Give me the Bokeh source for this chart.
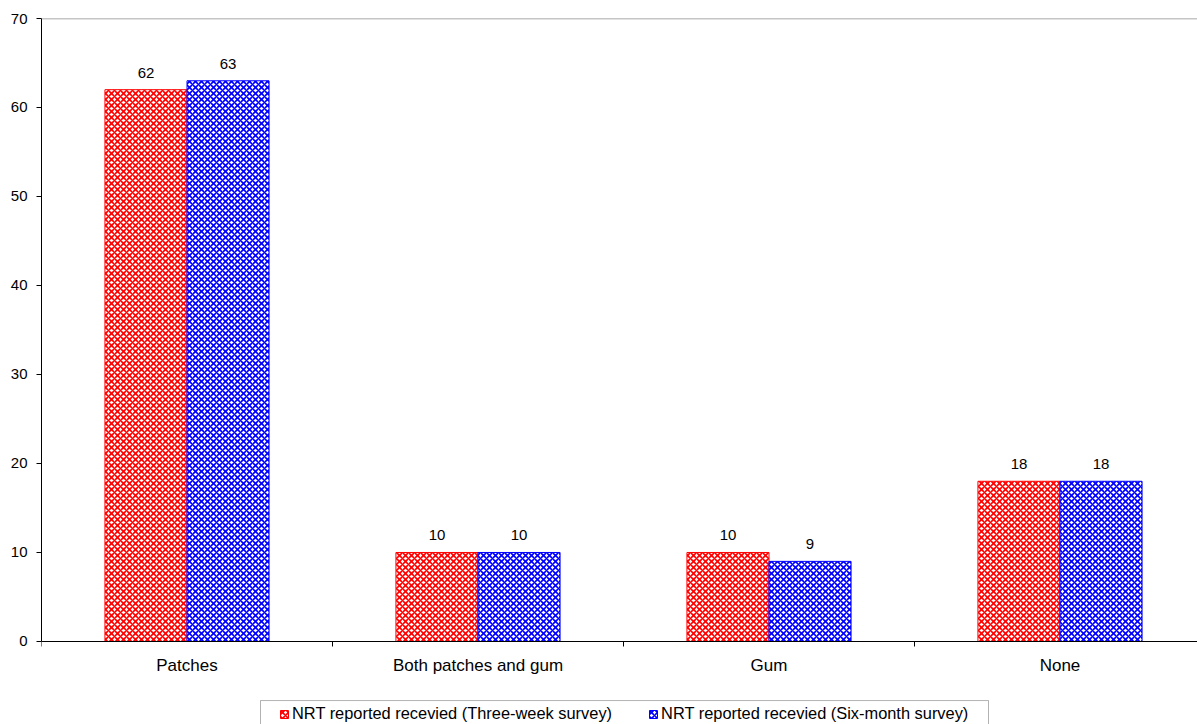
from bokeh.plotting import figure
from bokeh.models import (Range1d, FixedTicker, Span, Legend, LegendItem,
                          ColumnDataSource, BoxAnnotation)
from bokeh.core.properties import value
from bokeh.embed import file_html
from bokeh.resources import INLINE

categories = ["Patches", "Both patches and gum", "Gum", "None"]
three_week = [62, 10, 10, 18]
six_month = [63, 10, 9, 18]
series_names = ["NRT reported recevied (Three-week survey)",
                "NRT reported recevied (Six-month survey)"]
y_ticks = [0, 10, 20, 30, 40, 50, 60, 70]

FONT = "Liberation Sans"
BAR_W = 0.282

p = figure(width=1197, height=724, output_backend="svg", toolbar_location=None,
           x_range=Range1d(0, 3.9725), y_range=Range1d(-9.33, 70),
           min_border_left=41, min_border_right=0, min_border_top=18,
           min_border_bottom=0, background_fill_color="white",
           border_fill_color="white")
p.outline_line_color = None
p.xgrid.visible = False
p.ygrid.visible = False

centers = [i + 0.5 for i in range(len(categories))]
x_red = [c - BAR_W / 2 for c in centers]
x_blue = [c + BAR_W / 2 for c in centers]

src_red = ColumnDataSource(dict(x=x_red, top=three_week, lab=[str(v) for v in three_week]))
src_blue = ColumnDataSource(dict(x=x_blue, top=six_month, lab=[str(v) for v in six_month]))

common = dict(width=BAR_W, bottom=0, fill_color="white", line_width=1,
              hatch_pattern="diagonal_cross", hatch_scale=6, hatch_weight=1.6)
r_red = p.vbar(x="x", top="top", source=src_red, line_color="#FF0000",
               hatch_color="#FF0000", **common)
r_blue = p.vbar(x="x", top="top", source=src_blue, line_color="#0000FF",
                hatch_color="#0000FF", **common)

for src in (src_red, src_blue):
    p.text(x="x", y="top", text="lab", source=src, text_align="center",
           text_baseline="middle", y_offset=-17, text_font=value(FONT),
           text_font_size="15px", text_color="#000000")

p.add_layout(Span(location=70, dimension="width", line_color="#8c8c8c", line_width=1.5))

# Y axis
p.yaxis.bounds = (0, 70)
p.yaxis.ticker = FixedTicker(ticks=y_ticks)
p.yaxis.major_tick_out = 5
p.yaxis.major_tick_in = 0
p.yaxis.minor_tick_out = 0
p.yaxis.minor_tick_in = 0
p.yaxis.axis_line_color = "black"
p.yaxis.major_tick_line_color = "black"
p.yaxis.major_label_standoff = 9
p.yaxis.major_label_text_font = FONT
p.yaxis.major_label_text_font_size = "15px"
p.yaxis.major_label_text_color = "black"

# X axis (fixed at y = 0, inside the frame)
p.xaxis.fixed_location = 0
p.xaxis.ticker = FixedTicker(ticks=centers, minor_ticks=list(range(len(categories) + 1)))
p.xaxis.major_label_overrides = {c: name for c, name in zip(centers, categories)}
p.xaxis.major_tick_out = 0
p.xaxis.major_tick_in = 0
p.xaxis.minor_tick_out = 5
p.xaxis.minor_tick_in = 0
p.xaxis.minor_tick_line_color = "black"
p.xaxis.axis_line_color = "black"
p.xaxis.major_label_standoff = 10
p.xaxis.major_label_text_font = FONT
p.xaxis.major_label_text_font_size = "17px"
p.xaxis.major_label_text_color = "black"

# legend box (frame of the legend, open at the window's bottom edge)
p.add_layout(BoxAnnotation(left=0.7526, right=3.2543, top=-6.64, bottom=-12,
                           fill_color="white", fill_alpha=1,
                           line_color="black", line_width=1))

legend = Legend(items=[LegendItem(label=series_names[0], renderers=[r_red]),
                       LegendItem(label=series_names[1], renderers=[r_blue])],
                orientation="horizontal", location=(238, 1))
legend.border_line_color = None
legend.background_fill_alpha = 0
legend.label_text_font = FONT
legend.label_text_font_size = "16.4px"
legend.label_text_color = "black"
legend.glyph_width = 10
legend.glyph_height = 10
legend.label_height = 16
legend.label_standoff = 3
legend.spacing = 36
legend.margin = 0
legend.padding = 0
p.add_layout(legend)

open("out.html", "w").write(file_html(p, INLINE))
